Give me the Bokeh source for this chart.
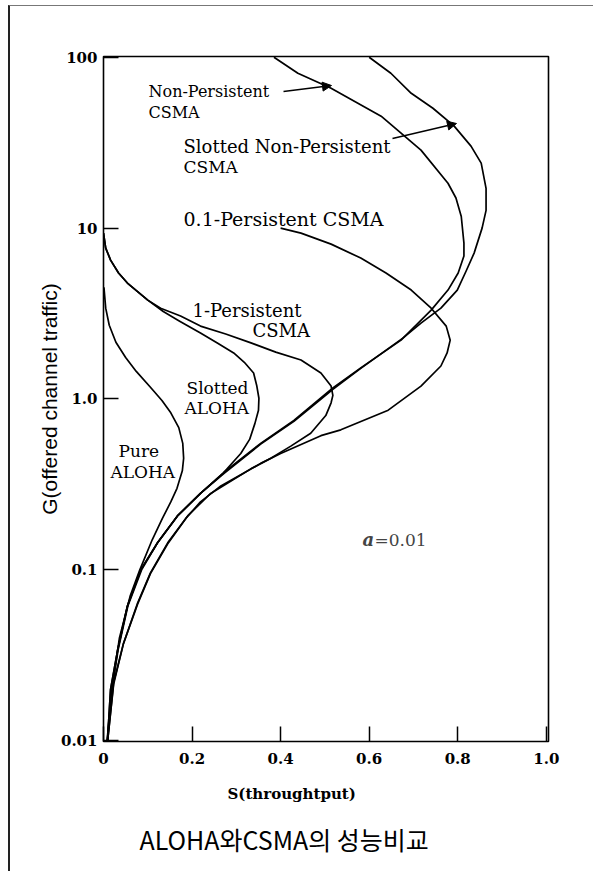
import math
from bokeh.plotting import figure
from bokeh.models import Label, Arrow, NormalHead, FixedTicker, Range1d, Title
from bokeh.embed import file_html
from bokeh.resources import INLINE

# ---------------- data ----------------
x_ticks = [0, 0.2, 0.4, 0.6, 0.8, 1.0]
x_tick_labels = ["0", "0.2", "0.4", "0.6", "0.8", "1.0"]
y_ticks = [0.01, 0.1, 1, 10, 100]
y_tick_labels = ["0.01", "0.1", "1.0", "10", "100"]

pure_aloha_s = [0.008, 0.019, 0.036, 0.060, 0.082, 0.110, 0.133, 0.152, 0.166, 0.178, 0.181,
                0.179, 0.170, 0.152, 0.132, 0.105, 0.074, 0.050, 0.028, 0.013, 0.005, 0.001]
pure_aloha_g = [0.01, 0.02, 0.04, 0.07, 0.1, 0.15, 0.2, 0.25, 0.3, 0.38, 0.45,
                0.55, 0.68, 0.83, 0.98, 1.18, 1.45, 1.75, 2.15, 2.7, 3.4, 4.5]

slotted_aloha_s = [0.009, 0.019, 0.033, 0.055, 0.086, 0.122, 0.167, 0.219, 0.271, 0.310, 0.330,
                   0.342, 0.350, 0.351, 0.346, 0.339, 0.318, 0.294, 0.258, 0.219, 0.172, 0.135,
                   0.100, 0.054, 0.034, 0.016, 0.005, 0.0]
slotted_aloha_g = [0.01, 0.02, 0.034, 0.0615, 0.10, 0.144, 0.207, 0.28, 0.37, 0.48, 0.58,
                   0.72, 0.86, 1.01, 1.2, 1.42, 1.64, 1.86, 2.12, 2.43, 2.85, 3.25,
                   3.79, 4.77, 5.46, 6.5, 7.64, 9.35]

p1_csma_s = [0.009, 0.023, 0.045, 0.077, 0.106, 0.145, 0.190, 0.242, 0.287, 0.333, 0.378, 0.423,
             0.468, 0.502, 0.514, 0.518, 0.514, 0.491, 0.446, 0.389, 0.333, 0.276, 0.219, 0.174,
             0.129, 0.100, 0.054, 0.034, 0.016, 0.005, 0.0]
p1_csma_g = [0.0098, 0.022, 0.037, 0.064, 0.096, 0.144, 0.207, 0.28, 0.33, 0.39, 0.45, 0.53,
             0.63, 0.80, 0.95, 1.05, 1.19, 1.42, 1.69, 1.88, 2.13, 2.40, 2.67, 3.06,
             3.40, 3.79, 4.77, 5.46, 6.5, 7.64, 9.35]

p01_csma_s = [0.009, 0.023, 0.045, 0.077, 0.106, 0.145, 0.186, 0.219, 0.265, 0.310, 0.355, 0.400,
              0.491, 0.536, 0.643, 0.717, 0.762, 0.776, 0.783, 0.774, 0.740, 0.695, 0.638, 0.581,
              0.514, 0.446, 0.400]
p01_csma_g = [0.0098, 0.0215, 0.037, 0.063, 0.095, 0.142, 0.20, 0.25, 0.31, 0.36, 0.42, 0.48,
              0.61, 0.66, 0.86, 1.19, 1.56, 1.86, 2.21, 2.67, 3.40, 4.34, 5.46, 6.68,
              8.06, 9.35, 10.0]

np_csma_s = [0.009, 0.016, 0.032, 0.054, 0.084, 0.122, 0.167, 0.219, 0.271, 0.355, 0.430, 0.518,
             0.581, 0.672, 0.740, 0.778, 0.801, 0.814, 0.814, 0.808, 0.796, 0.778, 0.717, 0.627,
             0.514, 0.439, 0.385]
np_csma_g = [0.01, 0.020, 0.034, 0.0615, 0.10, 0.144, 0.207, 0.28, 0.37, 0.55, 0.75, 1.16,
             1.52, 2.21, 3.31, 4.34, 5.46, 6.86, 8.17, 11.7, 15.0, 18.3, 28.6, 45.2,
             65.9, 80.6, 100]

snp_csma_s = [0.009, 0.016, 0.032, 0.054, 0.084, 0.122, 0.167, 0.219, 0.271, 0.355, 0.430, 0.518,
              0.581, 0.676, 0.717, 0.762, 0.799, 0.819, 0.837, 0.855, 0.864, 0.864, 0.853, 0.830,
              0.792, 0.744, 0.695, 0.649, 0.600]
snp_csma_g = [0.01, 0.020, 0.034, 0.0615, 0.10, 0.144, 0.207, 0.28, 0.365, 0.545, 0.74, 1.14,
              1.51, 2.27, 2.78, 3.40, 4.34, 5.61, 7.14, 10.0, 12.7, 17.1, 24.0, 30.2,
              39.5, 50.3, 61.5, 80.6, 100]

curves = [
    (pure_aloha_s, pure_aloha_g),
    (slotted_aloha_s, slotted_aloha_g),
    (p1_csma_s, p1_csma_g),
    (p01_csma_s, p01_csma_g),
    (np_csma_s, np_csma_g),
    (snp_csma_s, snp_csma_g),
]

# ---------------- figure ----------------
X_MAX = 1.005
Y_MIN, Y_MAX = 0.0099, 101
ORIG_X, ORIG_Y = 10, 6              # page position of the canvas (margin + border)
PAGE_FL, PAGE_FT = 103, 56          # page position of the plot frame
FRAME_W, FRAME_H = 445, 685
FRAME_L, FRAME_T = PAGE_FL - ORIG_X, PAGE_FT - ORIG_Y
W, H = 585, 866

p = figure(width=W, height=H, x_range=Range1d(0, X_MAX), y_range=Range1d(Y_MIN, Y_MAX),
           y_axis_type="log", output_backend="svg", toolbar_location=None,
           min_border_left=FRAME_L, min_border_top=FRAME_T,
           min_border_right=W - FRAME_L - FRAME_W, min_border_bottom=H - FRAME_T - FRAME_H)
p.styles = {"margin-left": "8px", "margin-top": "5px",
            "border-left": "2px solid #222222", "border-top": "1px solid #777777"}
p.grid.visible = False
p.background_fill_color = "white"
p.border_fill_color = "white"
p.outline_line_color = "black"
p.outline_line_width = 1.6
p.outline_line_alpha = 1.0

tick_font = "DejaVu Serif"
p.xaxis.ticker = FixedTicker(ticks=x_ticks)
p.xaxis.major_label_overrides = {t: l for t, l in zip(x_ticks, x_tick_labels)}
p.yaxis.ticker = FixedTicker(ticks=y_ticks)
p.yaxis.major_label_overrides = {t: l for t, l in zip(y_ticks, y_tick_labels)}
for ax in (p.xaxis[0], p.yaxis[0]):
    ax.axis_line_color = None
    ax.major_tick_in = 15
    ax.major_tick_out = 0
    ax.minor_tick_in = 0
    ax.minor_tick_out = 0
    ax.major_tick_line_color = "black"
    ax.major_tick_line_width = 1.5
    ax.major_label_text_font = tick_font
    ax.major_label_text_font_style = "bold"
    ax.major_label_text_font_size = "15px"
    ax.major_label_text_color = "black"
p.xaxis.major_label_standoff = 11
p.yaxis.major_label_standoff = 6

p.yaxis.axis_label = "G(offered channel traffic)"
p.yaxis.axis_label_text_font = "Liberation Sans"
p.yaxis.axis_label_text_font_style = "normal"
p.yaxis.axis_label_text_font_size = "21px"
p.yaxis.axis_label_text_color = "black"
p.yaxis.axis_label_standoff = -3

p.add_layout(Title(text="S(throughtput)", align="left", offset=124, standoff=32,
                   text_font="DejaVu Serif", text_font_style="bold", text_font_size="15px",
                   text_color="black"), "below")
p.add_layout(Title(text="ALOHA와CSMA의 성능비교", align="left", offset=36, standoff=0,
                   text_font="Noto Sans CJK KR", text_font_style="normal",
                   text_font_size="25px", text_color="black"), "below")

for s, g in curves:
    p.line(s, g, line_color="black", line_width=1.7, line_join="round")

# helpers: page pixel -> data (for placing text inside the frame)
PX_PER_X = FRAME_W / X_MAX
LT, LB = math.log10(Y_MAX), math.log10(Y_MIN)
PX_PER_DEC = FRAME_H / (LT - LB)


def sx(px):
    return (px - PAGE_FL) / PX_PER_X


def gy(py):
    return 10 ** (LT - (py - PAGE_FT) / PX_PER_DEC)


serif = "DejaVu Serif"
curve_labels = [
    ("Non-Persistent", 148, 91, "16px"),
    ("CSMA", 148, 112, "16px"),
    ("Slotted Non-Persistent", 183, 146, "18px"),
    ("CSMA", 183, 166, "17px"),
    ("0.1-Persistent CSMA", 183, 218, "19px"),
    ("1-Persistent", 192, 310, "18px"),
    ("CSMA", 252, 330, "18px"),
    ("Slotted", 186, 387, "17px"),
    ("ALOHA", 184, 407, "17px"),
    ("Pure", 118, 450, "17px"),
    ("ALOHA", 110, 471, "17px"),
]
for txt, px, py, fs in curve_labels:
    p.add_layout(Label(x=sx(px), y=gy(py), text=txt, text_font=serif, text_font_size=fs,
                       text_align="left", text_baseline="alphabetic", text_color="black"))

p.add_layout(Label(x=sx(362), y=gy(539), text="a", text_font=serif, text_font_style="bold italic",
                   text_font_size="18px", text_baseline="alphabetic"))
p.add_layout(Label(x=sx(374), y=gy(539), text="=0.01", text_font=serif,
                   text_font_size="17px", text_baseline="alphabetic"))

head = dict(size=9, fill_color="black", line_color="black")
p.add_layout(Arrow(end=NormalHead(**head), x_start=sx(283), y_start=gy(91),
                   x_end=sx(331), y_end=gy(85), line_width=1.5))
p.add_layout(Arrow(end=NormalHead(**head), x_start=sx(392), y_start=gy(138),
                   x_end=sx(456), y_end=gy(123), line_width=1.5))

open("out.html", "w").write(file_html(p, INLINE))
